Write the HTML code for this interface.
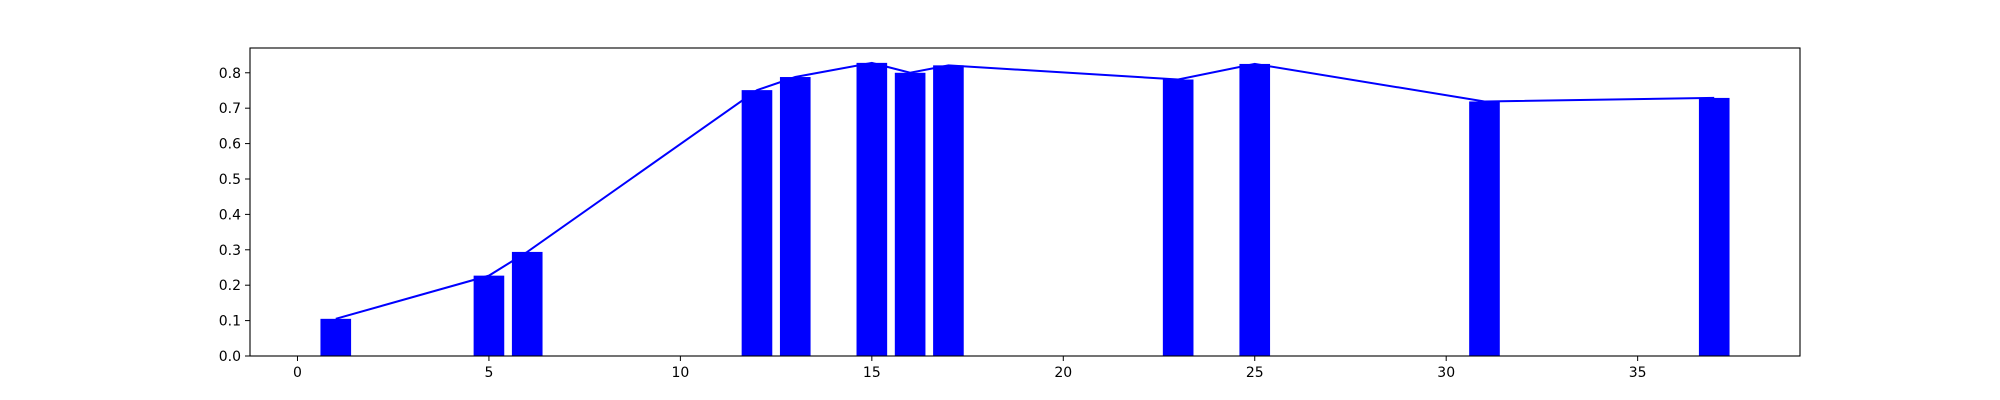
<!DOCTYPE html>
<html><head><meta charset="utf-8"><style>
html,body{margin:0;padding:0;background:#fff;}
svg{display:block;font-family:"DejaVu Sans","Liberation Sans",sans-serif;}
</style></head><body>
<svg id="chart" width="2000" height="400"></svg>
<script>
const categories=[1,5,6,12,13,15,16,17,23,25,31,37];
const barValues=[0.105,0.227,0.294,0.751,0.788,0.828,0.800,0.821,0.781,0.825,0.719,0.729];
const lineValues=[0.105,0.227,0.294,0.751,0.788,0.828,0.800,0.821,0.781,0.825,0.719,0.729];
const xTicks=[0,5,10,15,20,25,30,35];
const yTicks=[0.0,0.1,0.2,0.3,0.4,0.5,0.6,0.7,0.8];
const L=250,R=1800,T=48,B=356;
const xmin=-1.24,xmax=39.24,ymin=0,ymax=0.87;
const NS="http://www.w3.org/2000/svg";
const svg=document.getElementById('chart');
function sx(v){return L+(v-xmin)/(xmax-xmin)*(R-L);}
function sy(v){return B-(v-ymin)/(ymax-ymin)*(B-T);}
function mk(t,a){const e=document.createElementNS(NS,t);for(const k in a)e.setAttribute(k,a[k]);svg.appendChild(e);return e;}
categories.forEach((c,i)=>{
  const x0=sx(c-0.4),x1=sx(c+0.4);
  const r=mk('rect',{x:x0,y:sy(barValues[i]),width:x1-x0,height:B-sy(barValues[i]),fill:'#0000ff'});
  
  
});
const pts=categories.map((c,i)=>sx(c).toFixed(2)+','+sy(lineValues[i]).toFixed(2)).join(' ');
const pl=mk('polyline',{points:pts,fill:'none',stroke:'#0000ff','stroke-width':2});


const fr=mk('rect',{x:L,y:T,width:R-L,height:B-T,fill:'none',stroke:'#000','stroke-width':1.1});


xTicks.forEach(t=>{
  const x=sx(t);
  mk('line',{x1:x,x2:x,y1:B,y2:B+5,stroke:'#000','stroke-width':1});
  const tx=mk('text',{x:x,y:B+21,'text-anchor':'middle','font-size':14,fill:'#000'});
  tx.textContent=t;
  
  
});
yTicks.forEach(t=>{
  const y=sy(t);
  mk('line',{x1:L-5,x2:L,y1:y,y2:y,stroke:'#000','stroke-width':1});
  const tx=mk('text',{x:L-9,y:y+5,'text-anchor':'end','font-size':14,fill:'#000'});
  tx.textContent=t.toFixed(1);
  
  
});
</script>
</body></html>
